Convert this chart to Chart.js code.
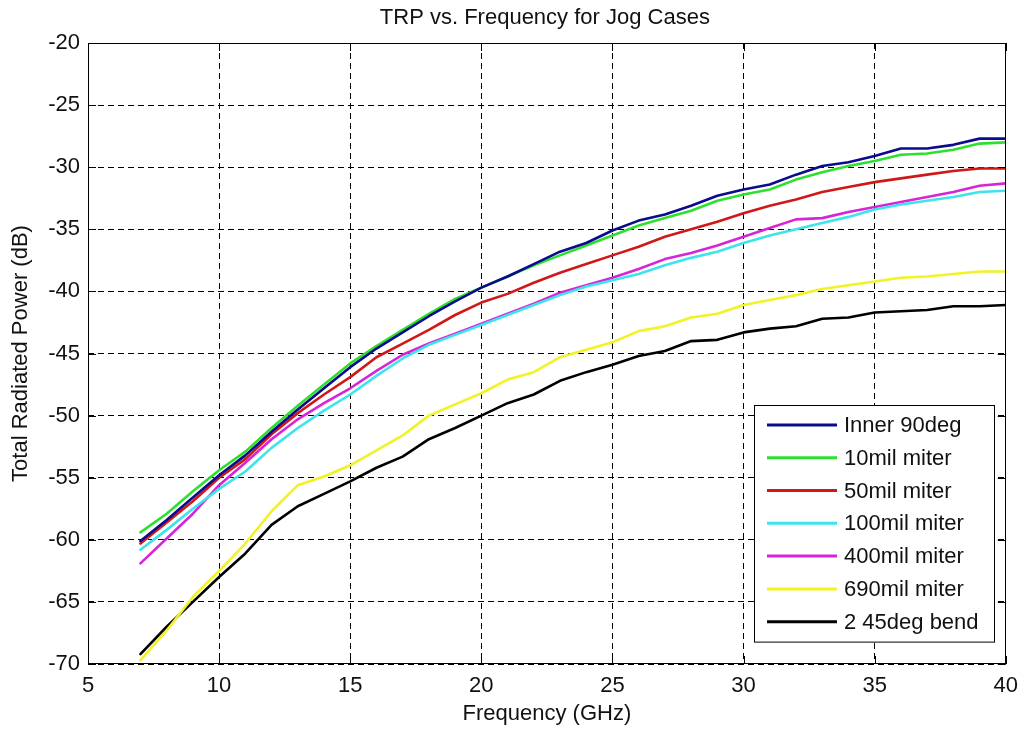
<!DOCTYPE html>
<html>
<head>
<meta charset="utf-8">
<title>TRP vs. Frequency for Jog Cases</title>
<script src="https://cdn.jsdelivr.net/npm/chart.js@4.4.1/dist/chart.umd.min.js"></script>
<style>
  html, body { margin: 0; padding: 0; background: #fff; }
  canvas { display: block; }
</style>
</head>
<body>
<canvas id="trp" width="1027" height="733"></canvas>
<script>
// frequency sweep (GHz) and total radiated power (dB) per jog geometry
const freqGHz = [7, 8, 9, 10, 11, 12, 13, 14, 15, 16, 17, 18, 19, 20, 21, 22, 23,
  24, 25, 26, 27, 28, 29, 30, 31, 32, 33, 34, 35, 36, 37, 38, 39, 40];

const inner90deg = [-60.1, -58.4, -56.6, -54.8, -53.2, -51.3, -49.5, -47.8, -46.1, -44.6,
  -43.3, -42.0, -40.8, -39.7, -38.8, -37.8, -36.8, -36.1, -35.1, -34.3, -33.8, -33.1,
  -32.3, -31.8, -31.4, -30.6, -29.9, -29.6, -29.1, -28.5, -28.5, -28.2, -27.7, -27.7];

const miter10 = [-59.4, -57.9, -56.1, -54.4, -52.9, -51.0, -49.2, -47.5, -45.8, -44.4,
  -43.1, -41.8, -40.6, -39.7, -38.8, -37.9, -37.1, -36.3, -35.5, -34.7, -34.1, -33.5,
  -32.7, -32.2, -31.8, -31.0, -30.4, -29.9, -29.5, -29.0, -28.9, -28.6, -28.1, -28.0];

const miter50 = [-60.3, -58.6, -56.9, -55.0, -53.5, -51.5, -49.8, -48.3, -46.9, -45.3,
  -44.2, -43.1, -41.9, -40.9, -40.2, -39.3, -38.5, -37.8, -37.1, -36.4, -35.6, -35.0,
  -34.4, -33.7, -33.1, -32.6, -32.0, -31.6, -31.2, -30.9, -30.6, -30.3, -30.1, -30.1];

const miter100 = [-60.8, -59.2, -57.5, -55.9, -54.5, -52.6, -51.0, -49.6, -48.3, -46.8,
  -45.4, -44.3, -43.5, -42.7, -41.9, -41.1, -40.3, -39.6, -39.1, -38.6, -37.9, -37.3,
  -36.8, -36.1, -35.5, -35.0, -34.5, -34.0, -33.4, -33.0, -32.7, -32.4, -32.0, -31.9];

const miter400 = [-61.9, -59.9, -57.9, -55.6, -53.8, -51.9, -50.3, -49.0, -47.8, -46.4,
  -45.1, -44.2, -43.4, -42.6, -41.8, -41.0, -40.1, -39.5, -38.9, -38.2, -37.4, -36.9,
  -36.3, -35.6, -34.9, -34.2, -34.1, -33.6, -33.2, -32.8, -32.4, -32.0, -31.5, -31.3];

const miter690 = [-69.7, -67.3, -64.6, -62.5, -60.3, -57.7, -55.6, -54.9, -54.0, -52.8,
  -51.6, -50.0, -49.1, -48.2, -47.1, -46.5, -45.3, -44.7, -44.1, -43.2, -42.8, -42.1,
  -41.8, -41.1, -40.7, -40.3, -39.8, -39.5, -39.2, -38.9, -38.8, -38.6, -38.4, -38.4];

const bend2x45 = [-69.2, -67.0, -65.0, -63.0, -61.1, -58.8, -57.3, -56.3, -55.3, -54.2,
  -53.3, -51.9, -51.0, -50.0, -49.0, -48.3, -47.2, -46.5, -45.9, -45.2, -44.8, -44.0,
  -43.9, -43.3, -43.0, -42.8, -42.2, -42.1, -41.7, -41.6, -41.5, -41.2, -41.2, -41.1];

const seriesLabels = ['Inner 90deg', '10mil miter', '50mil miter', '100mil miter',
  '400mil miter', '690mil miter', '2 45deg bend'];

const xTicks = [5, 10, 15, 20, 25, 30, 35, 40];
const yTicks = [-70, -65, -60, -55, -50, -45, -40, -35, -30, -25, -20];

const FONT = '"Liberation Sans", Arial, Helvetica, sans-serif';
const TEXT = '#111';

const seriesValues = [inner90deg, miter10, miter50, miter100, miter400, miter690, bend2x45];
const seriesColors = ['#0b0b8e', '#2ee02e', '#d01818', '#3ce4ec', '#d824d8', '#f2f224', '#000000'];

const datasets = seriesValues.map((vals, i) => ({
  label: seriesLabels[i],
  data: freqGHz.map((f, j) => ({ x: f, y: vals[j] })),
  borderColor: seriesColors[i],
  backgroundColor: seriesColors[i],
  borderWidth: 2.6,
  pointRadius: 0,
  tension: 0,
  borderJoinStyle: 'round',
  borderCapStyle: 'round'
}));

// box around the plot area plus inward tick marks on all four sides
const axesBox = {
  id: 'axesBox',
  afterDatasetsDraw(chart, args, opts) {
    const { ctx, chartArea: { left, right, top, bottom }, scales: { x, y } } = chart;
    const len = opts.tickLength;
    ctx.save();
    ctx.strokeStyle = '#000';
    ctx.lineWidth = 1;
    ctx.beginPath();
    x.ticks.forEach(t => {
      const px = Math.round(x.getPixelForValue(t.value)) + 0.5;
      ctx.moveTo(px, bottom); ctx.lineTo(px, bottom - len);
      ctx.moveTo(px, top); ctx.lineTo(px, top + len);
    });
    y.ticks.forEach(t => {
      const py = Math.round(y.getPixelForValue(t.value)) + 0.5;
      ctx.moveTo(left, py); ctx.lineTo(left + len, py);
      ctx.moveTo(right, py); ctx.lineTo(right - len, py);
    });
    ctx.stroke();
    ctx.strokeRect(Math.round(left) + 0.5, Math.round(top) + 0.5,
      Math.round(right - left) - 1, Math.round(bottom - top) - 1);
    ctx.restore();
  }
};

// boxed legend in the lower right corner of the plot
const legendBox = {
  id: 'legendBox',
  afterDatasetsDraw(chart, args, opts) {
    const { ctx, chartArea } = chart;
    const sets = chart.data.datasets;
    const h = opts.rowHeight * sets.length + opts.pad * 2;
    const right = chartArea.right - opts.marginRight;
    const bottom = chartArea.bottom - opts.marginBottom;
    const left = Math.round(right - opts.width);
    const top = Math.round(bottom - h);
    ctx.save();
    ctx.fillStyle = '#fff';
    ctx.fillRect(left, top, opts.width, h);
    ctx.strokeStyle = '#000';
    ctx.lineWidth = 1;
    ctx.strokeRect(left + 0.5, top + 0.5, opts.width, h);
    ctx.font = opts.font;
    ctx.textBaseline = 'middle';
    ctx.textAlign = 'left';
    sets.forEach((ds, i) => {
      const cy = top + opts.pad + opts.rowHeight * (i + 0.5);
      ctx.strokeStyle = ds.borderColor;
      ctx.lineWidth = 3;
      ctx.beginPath();
      ctx.moveTo(left + 13, cy);
      ctx.lineTo(left + 83, cy);
      ctx.stroke();
      ctx.fillStyle = TEXT;
      ctx.fillText(ds.label, left + 90, cy + 1);
    });
    ctx.restore();
  }
};

// title centred over the plot area rather than the whole canvas
const plotTitle = {
  id: 'plotTitle',
  afterDraw(chart, args, opts) {
    const { ctx, chartArea } = chart;
    ctx.save();
    ctx.font = opts.font;
    ctx.fillStyle = TEXT;
    ctx.textAlign = 'center';
    ctx.textBaseline = 'middle';
    ctx.fillText(opts.text, (chartArea.left + chartArea.right) / 2 - 2, opts.y);
    ctx.restore();
  }
};

new Chart(document.getElementById('trp'), {
  type: 'line',
  data: { datasets },
  plugins: [axesBox, legendBox, plotTitle],
  options: {
    responsive: false,
    animation: false,
    events: [],
    layout: { padding: { top: 43, right: 18, left: 0, bottom: 0 } },
    plugins: {
      legend: { display: false },
      tooltip: { enabled: false },
      title: { display: false },
      axesBox: { tickLength: 8 },
      legendBox: {
        width: 240, rowHeight: 32.8, pad: 3.5,
        marginRight: 12, marginBottom: 22,
        font: '22px ' + FONT
      },
      plotTitle: { text: 'TRP vs. Frequency for Jog Cases', y: 18, font: '22px ' + FONT }
    },
    scales: {
      x: {
        type: 'linear',
        min: 5, max: 40,
        afterBuildTicks: s => { s.ticks = xTicks.map(v => ({ value: v })); },
        afterFit: s => { s.height = 69; },
        grid: { color: '#000', lineWidth: 1, drawTicks: false },
        border: { display: false, dash: [6, 4] },
        ticks: { padding: 9, color: TEXT, font: { family: FONT, size: 22 }, maxRotation: 0 },
        title: {
          display: true, text: 'Frequency (GHz)', color: TEXT,
          font: { family: FONT, size: 22 }, padding: { top: 0, bottom: 6 }
        }
      },
      y: {
        type: 'linear',
        min: -70, max: -20,
        afterBuildTicks: s => { s.ticks = yTicks.map(v => ({ value: v })); },
        afterFit: s => { s.width = 88; },
        grid: { color: '#000', lineWidth: 1, drawTicks: false },
        border: { display: false, dash: [6, 4] },
        ticks: { padding: 8, color: TEXT, font: { family: FONT, size: 22 } },
        title: {
          display: true, text: 'Total Radiated Power (dB)', color: TEXT,
          font: { family: FONT, size: 22 }, padding: { top: 8, bottom: 0 }
        }
      }
    }
  }
});
</script>
</body>
</html>
